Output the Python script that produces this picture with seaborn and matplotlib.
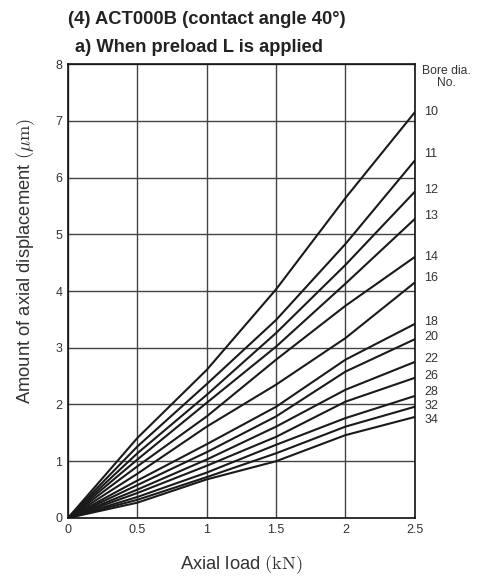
import pandas as pd
import matplotlib.pyplot as plt
import seaborn as sns

# axial load (kN) and displacement (um) read per bore dia. number
load = [0, 0.5, 1, 1.5, 2, 2.5]
bore_no = ["10", "11", "12", "13", "14", "16", "18", "20", "22", "26", "28", "32", "34"]
disp_10 = [0, 1.41, 2.61, 4.03, 5.64, 7.15]
disp_11 = [0, 1.26, 2.36, 3.49, 4.83, 6.30]
disp_12 = [0, 1.14, 2.17, 3.26, 4.46, 5.75]
disp_13 = [0, 1.03, 2.03, 3.02, 4.13, 5.27]
disp_14 = [0, 0.91, 1.79, 2.79, 3.74, 4.60]
disp_16 = [0, 0.78, 1.61, 2.35, 3.17, 4.15]
disp_18 = [0, 0.66, 1.30, 1.96, 2.79, 3.42]
disp_20 = [0, 0.58, 1.16, 1.79, 2.58, 3.15]
disp_22 = [0, 0.50, 1.03, 1.61, 2.26, 2.75]
disp_26 = [0, 0.44, 0.92, 1.43, 2.05, 2.47]
disp_28 = [0, 0.37, 0.80, 1.29, 1.76, 2.15]
disp_32 = [0, 0.32, 0.72, 1.14, 1.61, 1.96]
disp_34 = [0, 0.27, 0.68, 1.00, 1.46, 1.78]
all_disp = [disp_10, disp_11, disp_12, disp_13, disp_14, disp_16, disp_18,
            disp_20, disp_22, disp_26, disp_28, disp_32, disp_34]
# heights of the number labels on the right (spread apart where curves bunch up)
label_y = [7.15, 6.41, 5.78, 5.32, 4.60, 4.23, 3.45, 3.19, 2.80, 2.50, 2.22, 1.97, 1.73]
x_ticks = [0, 0.5, 1, 1.5, 2, 2.5]
x_tick_labels = ["0", "0.5", "1", "1.5", "2", "2.5"]
y_ticks = [0, 1, 2, 3, 4, 5, 6, 7, 8]

rows = []
for no, d in zip(bore_no, all_disp):
    for x, y in zip(load, d):
        rows.append((no, x, y))
df = pd.DataFrame(rows, columns=["bore", "load", "disp"])

sns.set_style("white")
plt.rcParams["font.family"] = ["Liberation Sans", "DejaVu Sans"]
plt.rcParams["mathtext.fontset"] = "cm"

fig = plt.figure(figsize=(4.79, 5.77), dpi=100)
ax = fig.add_axes([0.142, 0.1023, 0.724, 0.7867])

sns.lineplot(data=df, x="load", y="disp", units="bore", estimator=None,
             color="#1a1a1a", linewidth=1.5, ax=ax, legend=False)

ax.set_xlim(0, 2.5)
ax.set_ylim(0, 8)
ax.set_xticks(x_ticks)
ax.set_xticklabels(x_tick_labels)
ax.set_yticks(y_ticks)
ax.grid(True, color="#444444", linewidth=1.0)
ax.tick_params(length=0, labelsize=9, colors="#333333", pad=4)
for s in ax.spines.values():
    s.set_color("#111111")
    s.set_linewidth(1.2)

ax.set_xlabel(r"Axial load $(\mathrm{kN})$", fontsize=13.2, color="#333333", labelpad=13)
ax.set_ylabel(r"Amount of axial displacement $(\mu\mathrm{m})$", fontsize=13.2,
              color="#333333")
ax.yaxis.set_label_coords(-0.088, 0.566)

# bore dia. labels at the right end of each curve
for no, yl in zip(bore_no, label_y):
    ax.annotate(no, xy=(load[-1], yl), xytext=(7, 0), textcoords="offset points",
                va="center", ha="left", fontsize=9, color="#333333", annotation_clip=False)
ax.text(1.092, 0.972, "Bore dia.\nNo.", transform=ax.transAxes, ha="center", va="center",
        multialignment="center", fontsize=8.7, color="#333333", linespacing=1.0)

fig.text(68 / 479, 1 - 19 / 577, "(4) ACT000B (contact angle 40°)", fontsize=13.2,
         fontweight="bold", color="#222222", va="center", ha="left")
fig.text(75 / 479, 1 - 47 / 577, "a) When preload L is applied", fontsize=13.2,
         fontweight="bold", color="#222222", va="center", ha="left")

fig.savefig("out.png", dpi=100)
